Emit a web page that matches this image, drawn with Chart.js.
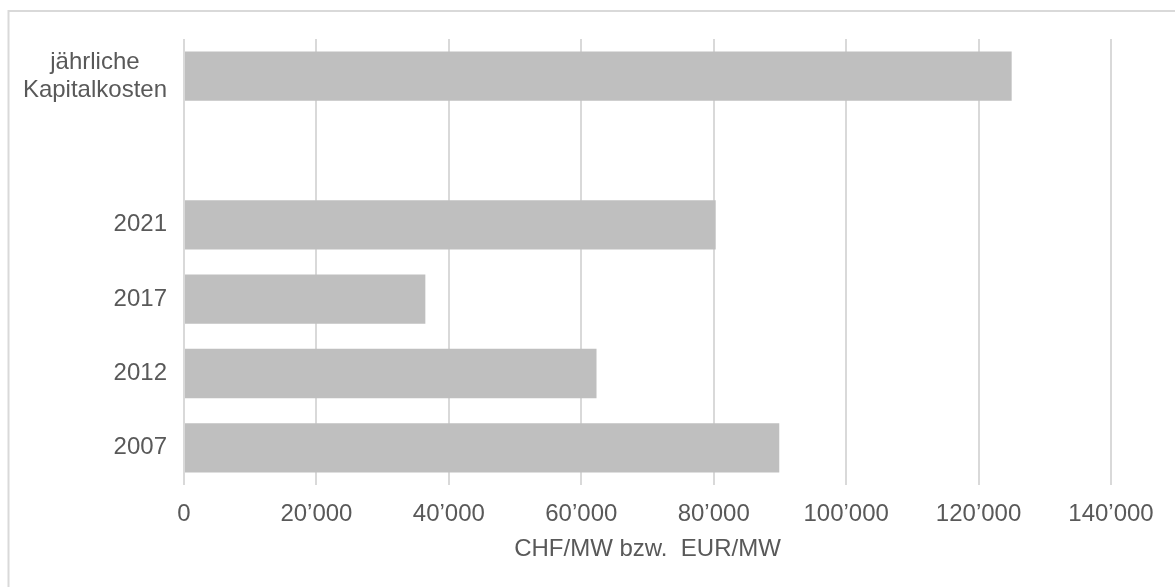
<!DOCTYPE html>
<html lang="de">
<head>
<meta charset="utf-8">
<title>Kapitalkosten CHF/MW bzw. EUR/MW</title>
<script src="https://cdn.jsdelivr.net/npm/chart.js@4/dist/chart.umd.min.js"></script>
<style>
  html, body { margin: 0; padding: 0; background: #ffffff; }
  #wrap { position: relative; width: 1175px; height: 587px; }
</style>
</head>
<body>
<div id="wrap"><canvas id="chart" width="1175" height="587"></canvas></div>
<script>
// Kategorien (von oben nach unten) und Werte in CHF/MW bzw. EUR/MW
const categories = [['jährliche', 'Kapitalkosten'], '', '2021', '2017', '2012', '2007'];
const values = [125000, null, 80300, 36450, 62300, 89900];
const tickValues = [0, 20000, 40000, 60000, 80000, 100000, 120000, 140000];
const axisTitle = 'CHF/MW bzw.  EUR/MW';

const FONT = '"Liberation Sans", Arial, Helvetica, sans-serif';
const TEXT_COLOR = '#595959';
const GRID_COLOR = '#d9d9d9';
const BAR_COLOR = '#bfbfbf';
const FONT_SIZE = 24;
const Y_LABEL_PAD = 17;

// Tausendertrennzeichen im Schweizer Format (20’000)
function formatCH(v) {
  return String(v).replace(/\B(?=(\d{3})+(?!\d))/g, '\u2019');
}

// Rahmen um das gesamte Diagramm
const framePlugin = {
  id: 'frame',
  beforeDraw(chart) {
    const ctx = chart.ctx;
    ctx.save();
    ctx.strokeStyle = GRID_COLOR;
    ctx.lineWidth = 2;
    ctx.beginPath();
    ctx.moveTo(8.5, chart.height + 5);
    ctx.lineTo(8.5, 11);
    ctx.lineTo(chart.width + 5, 11);
    ctx.stroke();
    ctx.restore();
  }
};

// Mehrzeilige Kategoriebeschriftung, zentriert gesetzt
const multiLineLabelPlugin = {
  id: 'multiLineLabel',
  afterDraw(chart) {
    const y = chart.scales.y;
    const ctx = chart.ctx;
    ctx.save();
    ctx.font = FONT_SIZE + 'px ' + FONT;
    ctx.fillStyle = TEXT_COLOR;
    ctx.textAlign = 'center';
    ctx.textBaseline = 'middle';
    categories.forEach((cat, i) => {
      if (!Array.isArray(cat)) return;
      const widest = Math.max(...cat.map(t => ctx.measureText(t).width));
      const cx = y.right - Y_LABEL_PAD - widest / 2;
      const cy = y.getPixelForValue(i);
      const lh = FONT_SIZE * 1.15;
      cat.forEach((line, j) => {
        ctx.fillText(line, cx, cy + (j - (cat.length - 1) / 2) * lh);
      });
    });
    ctx.restore();
  }
};

new Chart(document.getElementById('chart'), {
  type: 'bar',
  data: {
    labels: categories,
    datasets: [{
      data: values,
      backgroundColor: BAR_COLOR,
      borderWidth: 0,
      categoryPercentage: 1,
      barPercentage: 0.663
    }]
  },
  options: {
    indexAxis: 'y',
    responsive: false,
    animation: false,
    devicePixelRatio: 1,
    layout: { padding: { left: 0, top: 39, right: 64, bottom: 0 } },
    plugins: {
      legend: { display: false },
      tooltip: { enabled: false }
    },
    scales: {
      x: {
        min: 0,
        max: 140000,
        afterBuildTicks(scale) {
          scale.ticks = tickValues.map(v => ({ value: v }));
        },
        afterFit(scale) { scale.height = 102; },
        border: { display: false },
        grid: { color: GRID_COLOR, lineWidth: 2, drawTicks: false },
        ticks: {
          padding: 15,
          color: TEXT_COLOR,
          font: { family: FONT, size: FONT_SIZE },
          maxRotation: 0,
          autoSkip: false,
          callback: v => formatCH(v)
        },
        title: {
          display: true,
          text: axisTitle,
          color: TEXT_COLOR,
          font: { family: FONT, size: FONT_SIZE },
          padding: { top: 0, bottom: 23 }
        }
      },
      y: {
        afterFit(scale) { scale.width = 184; },
        border: { display: false },
        grid: { display: false, drawTicks: false },
        ticks: {
          padding: Y_LABEL_PAD,
          color: TEXT_COLOR,
          font: { family: FONT, size: FONT_SIZE },
          autoSkip: false,
          callback: function (v, i) {
            const c = categories[i];
            return Array.isArray(c) ? '' : c;
          }
        }
      }
    }
  },
  plugins: [framePlugin, multiLineLabelPlugin]
});
</script>
</body>
</html>
